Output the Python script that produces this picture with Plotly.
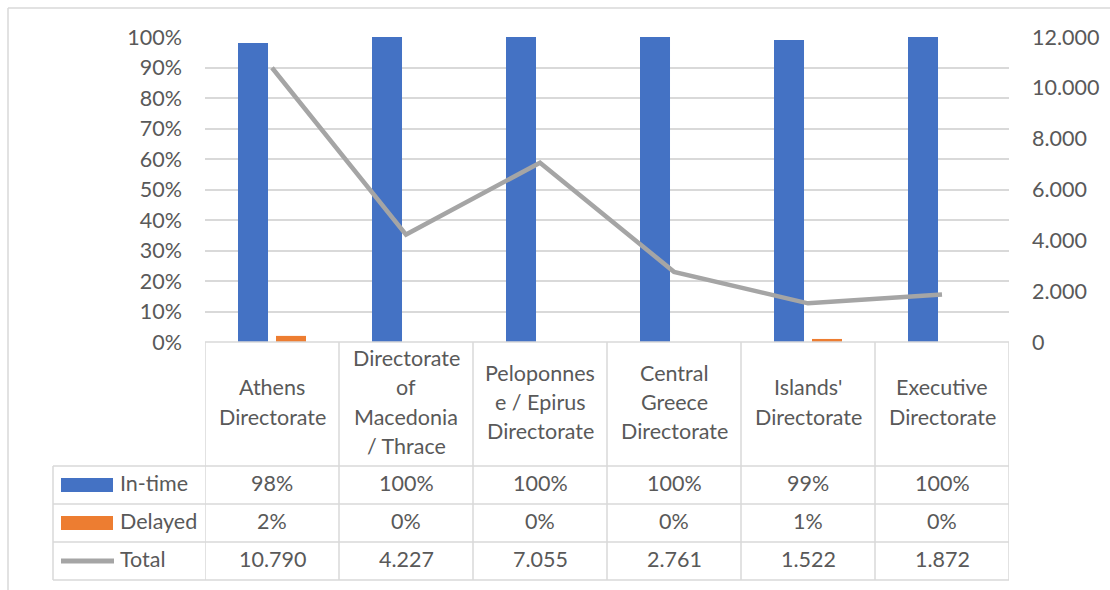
import plotly.graph_objects as go

# ---- data ----
categories = [
    "Athens Directorate",
    "Directorate of Macedonia / Thrace",
    "Peloponnese / Epirus Directorate",
    "Central Greece Directorate",
    "Islands' Directorate",
    "Executive Directorate",
]
header_lines = [
    ["Athens", "Directorate"],
    ["Directorate", "of", "Macedonia", "/ Thrace"],
    ["Peloponnes", "e / Epirus", "Directorate"],
    ["Central", "Greece", "Directorate"],
    ["Islands'", "Directorate"],
    ["Executive", "Directorate"],
]
in_time = [0.98, 1.00, 1.00, 1.00, 0.99, 1.00]
delayed = [0.02, 0.00, 0.00, 0.00, 0.01, 0.00]
total = [10790, 4227, 7055, 2761, 1522, 1872]
series_names = ["In-time", "Delayed", "Total"]
pct_ticks = [i / 10 for i in range(11)]
count_ticks = [0, 2000, 4000, 6000, 8000, 10000, 12000]

# ---- style ----
BLUE, ORANGE, GREY = "#4472C4", "#ED7D31", "#A5A5A5"
TEXT, RULE = "#595959", "#D9D9D9"
FONT = "Lato"
FS = 21.5

W, H = 1110, 590
L, R, T, B = 205, 1009, 37, 342
TEXT_NUDGE = -2  # optical centring of table text, px


def px(x):
    return (x - L) / (R - L)


def py(y):
    return (B - y) / (B - T)


def pct(v):
    return f"{round(v * 100)}%"


def thousands(v):
    return f"{v:,}".replace(",", ".")


fig = go.Figure()
fig.add_trace(go.Bar(x=categories, y=in_time, name=series_names[0],
                     marker=dict(color=BLUE, line=dict(width=0))))
fig.add_trace(go.Bar(x=categories, y=delayed, name=series_names[1],
                     marker=dict(color=ORANGE, line=dict(width=0))))
fig.add_trace(go.Scatter(x=categories, y=total, name=series_names[2], yaxis="y2",
                         mode="lines", line=dict(color=GREY, width=4.5)))

shapes = []
annotations = []

# outer frame of the chart area
shapes.append(dict(type="line", xref="paper", yref="paper",
                   x0=px(8), x1=px(8), y0=py(8), y1=py(600),
                   line=dict(color=RULE, width=1.5)))
shapes.append(dict(type="line", xref="paper", yref="paper",
                   x0=px(8), x1=px(1115), y0=py(8), y1=py(8),
                   line=dict(color=RULE, width=1.5)))

# data table grid
row_lines = [466, 504, 542, 580]
shapes.append(dict(type="line", xref="paper", yref="paper",
                   x0=0, x1=1, y0=py(B), y1=py(B),
                   line=dict(color=RULE, width=1.5)))
for yl in row_lines:
    shapes.append(dict(type="line", xref="paper", yref="paper",
                       x0=px(53), x1=1, y0=py(yl), y1=py(yl),
                       line=dict(color=RULE, width=1.5)))
shapes.append(dict(type="line", xref="paper", yref="paper",
                   x0=px(53), x1=px(53), y0=py(row_lines[0]), y1=py(row_lines[-1]),
                   line=dict(color=RULE, width=1.5)))
for i in range(len(categories) + 1):
    shapes.append(dict(type="line", xref="x", yref="paper",
                       x0=i - 0.5, x1=i - 0.5, y0=py(B), y1=py(row_lines[-1]),
                       line=dict(color=RULE, width=1.5)))

# legend keys in the table
row_centres = [(row_lines[k] + row_lines[k + 1]) / 2 for k in range(3)]
shapes.append(dict(type="rect", xref="paper", yref="paper",
                   x0=px(61), x1=px(113), y0=py(row_centres[0] - 7), y1=py(row_centres[0] + 7),
                   fillcolor=BLUE, line=dict(width=0)))
shapes.append(dict(type="rect", xref="paper", yref="paper",
                   x0=px(61), x1=px(113), y0=py(row_centres[1] - 7), y1=py(row_centres[1] + 7),
                   fillcolor=ORANGE, line=dict(width=0)))
shapes.append(dict(type="line", xref="paper", yref="paper",
                   x0=px(61), x1=px(114), y0=py(row_centres[2]), y1=py(row_centres[2]),
                   line=dict(color=GREY, width=5)))
for k, name in enumerate(series_names):
    annotations.append(dict(xref="paper", yref="paper", x=px(118), y=py(row_centres[k] + TEXT_NUDGE),
                            text=name, showarrow=False, xanchor="left", yanchor="middle",
                            font=dict(family=FONT, size=FS, color=TEXT)))

# category headers
header_mid = (B + row_lines[0]) / 2
spacing = 29.5
for i, lines in enumerate(header_lines):
    n = len(lines)
    for k, line in enumerate(lines):
        yy = header_mid + (k - (n - 1) / 2) * spacing + TEXT_NUDGE
        annotations.append(dict(xref="x", yref="paper", x=categories[i], y=py(yy),
                                text=line, showarrow=False, xanchor="center", yanchor="middle",
                                font=dict(family=FONT, size=FS, color=TEXT)))

# table values
rows = [[pct(v) for v in in_time], [pct(v) for v in delayed], [thousands(v) for v in total]]
for k, row in enumerate(rows):
    for i, txt in enumerate(row):
        annotations.append(dict(xref="x", yref="paper", x=categories[i],
                                y=py(row_centres[k] + TEXT_NUDGE),
                                text=txt, showarrow=False, xanchor="center", yanchor="middle",
                                font=dict(family=FONT, size=FS, color=TEXT)))

fig.update_layout(
    width=W, height=H,
    margin=dict(l=L, r=W - R, t=T, b=H - B, pad=0),
    paper_bgcolor="white", plot_bgcolor="white",
    showlegend=False,
    barmode="group", bargap=0.433, bargroupgap=0.21,
    separators=",.",
    font=dict(family=FONT, size=FS, color=TEXT),
    xaxis=dict(type="category", range=[-0.5, len(categories) - 0.5],
               showticklabels=False, showgrid=False, zeroline=False, showline=False, ticks=""),
    yaxis=dict(range=[0, 1], tickvals=pct_ticks, tickformat=".0%",
               showgrid=True, gridcolor=RULE, gridwidth=1.5, zeroline=False,
               showline=False, ticks="", ticklabelstandoff=22,
               tickfont=dict(family=FONT, size=FS, color=TEXT)),
    yaxis2=dict(range=[0, 12000], tickvals=count_ticks, tickformat=",d",
                overlaying="y", side="right", showgrid=False, zeroline=False,
                showline=False, ticks="", ticklabelstandoff=22,
                tickfont=dict(family=FONT, size=FS, color=TEXT)),
    shapes=shapes,
    annotations=annotations,
)

fig.write_html("out.html")
